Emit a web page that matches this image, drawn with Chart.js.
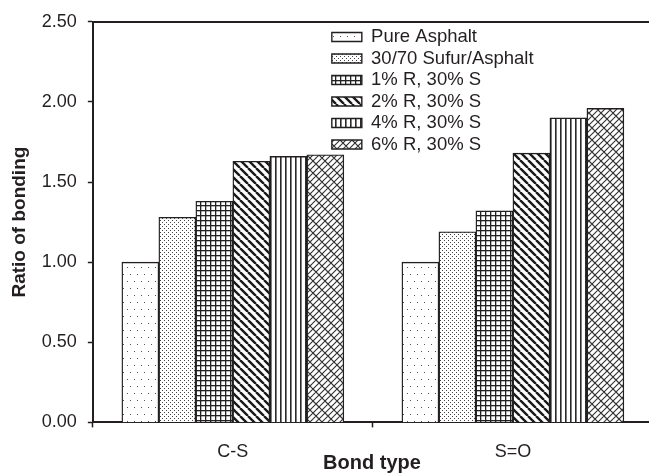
<!DOCTYPE html>
<html>
<head>
<meta charset="utf-8">
<script src="https://cdn.jsdelivr.net/npm/chart.js@4"></script>
<style>
    html, body { margin: 0; padding: 0; background: #fff; overflow: hidden; }
    canvas { display: block; }
</style>
</head>
<body>
<canvas id="bond_chart" width="649" height="474"></canvas>
<script>
// bond ratios per bond type
const bondTypes = ['C-S', 'S=O'];
const seriesNames = ['Pure Asphalt', '30/70 Sufur/Asphalt', '1% R, 30% S', '2% R, 30% S', '4% R, 30% S', '6% R, 30% S'];
const pureAsphalt = [1.00, 1.00];
const sulfurAsphalt = [1.28, 1.19];
const r1s30 = [1.38, 1.32];
const r2s30 = [1.63, 1.68];
const r4s30 = [1.66, 1.90];
const r6s30 = [1.67, 1.96];
const yMax = 2.5;
const xMax = 1.986;

const ink = '#231f20';
const chart_1 = document.getElementById('bond_chart');
const ctx = chart_1.getContext('2d');

function makePattern(w, h, draw) {
    const c = document.createElement('canvas');
    c.width = w;
    c.height = h;
    const g = c.getContext('2d');
    g.fillStyle = '#fff';
    g.fillRect(0, 0, w, h);
    g.fillStyle = '#333';
    g.strokeStyle = '#333';
    draw(g, w, h);
    return ctx.createPattern(c, 'repeat');
}

// sparse dots
const dotsSparse = makePattern(7, 14, g => {
    g.fillStyle = '#555';
    g.fillRect(1, 1, 1, 1);
    g.fillRect(4, 8, 1, 1);
});
// dense dots
const dotsDense = makePattern(4, 4, g => {
    g.fillStyle = '#444';
    g.fillRect(0, 0, 1, 1);
    g.fillRect(2, 2, 1, 1);
});
// small squares
const gridFine = makePattern(5, 5, g => {
    g.fillStyle = '#222';
    g.fillRect(0, 0, 5, 1.3);
    g.fillRect(0, 0, 1.3, 5);
});
// thick back slashes
const backSlash = makePattern(8, 8, g => {
    g.strokeStyle = '#1a1a1a';
    g.lineWidth = 2.4;
    g.beginPath();
    for (let k = -1; k <= 1; k++) {
        g.moveTo(k * 8, 0);
        g.lineTo(k * 8 + 8, 8);
    }
    g.stroke();
});
// vertical lines
const vertLines = makePattern(5, 4, g => {
    g.fillStyle = '#2a2a2a';
    g.fillRect(0, 0, 1.6, 4);
});
// diagonal bricks
const bricks = makePattern(12, 12, (g, T) => {
    const s = T / 2;
    g.lineWidth = 1.1;
    g.beginPath();
    for (let c = 0; c <= 2 * T; c += s) {
        g.moveTo(c + 1, -1);
        g.lineTo(c - T - 1, T + 1);
    }
    const segs = [[1, s], [1 + s, s], [1 + s / 2, T], [1 + 3 * s / 2, T]];
    for (let ox = -T; ox <= T; ox += T) {
        for (let oy = -T; oy <= T; oy += T) {
            for (const [p, c] of segs) {
                g.moveTo(ox + p, oy + c - p);
                g.lineTo(ox + p + s / 2, oy + c - p + s / 2);
            }
        }
    }
    g.stroke();
});

const fills = [dotsSparse, dotsDense, gridFine, backSlash, vertLines, bricks];
const series = [pureAsphalt, sulfurAsphalt, r1s30, r2s30, r4s30, r6s30];

const datasets = series.map((vals, i) => ({
    label: seriesNames[i],
    data: vals.map((v, j) => ({x: j + 0.5, y: v})),
    backgroundColor: fills[i],
    borderColor: ink,
    borderWidth: 1.4,
    barThickness: 37
}));

// legend sits inside the plot, upper middle
const legendSpot = {
    id: 'legendSpot',
    afterLayout(chart) {
        const lg = chart.legend;
        const area = chart.chartArea;
        lg.left = area.left + 236;
        lg.top = area.top + 3;
        lg.right = lg.left + 260;
        lg.bottom = lg.top + 150;
    }
};

Chart.defaults.font.family = "'Liberation Sans', Arial, sans-serif";
Chart.defaults.color = ink;

new Chart(chart_1, {
    type: 'bar',
    data: {datasets: datasets},
    plugins: [legendSpot],
    options: {
        responsive: false,
        animation: false,
        devicePixelRatio: 1,
        layout: {
            padding: {left: 0, right: -95, top: 21, bottom: -3}
        },
        scales: {
            x: {
                type: 'linear',
                offset: false,
                min: 0,
                max: xMax,
                afterBuildTicks: scale => {
                    scale.ticks = [0, 0.5, 1, 1.5].map(v => ({value: v}));
                },
                ticks: {
                    autoSkip: false,
                    maxRotation: 0,
                    padding: 14,
                    font: {size: 18},
                    callback: v => (v % 1 === 0.5 ? bondTypes[Math.floor(v)] : '')
                },
                grid: {
                    offset: false,
                    drawOnChartArea: false,
                    tickLength: 5,
                    tickWidth: 1.5,
                    tickColor: c => (c.tick && c.tick.value % 1 === 0 ? ink : 'rgba(0,0,0,0)')
                },
                border: {color: ink, width: 2}
            },
            xTop: {
                type: 'linear',
                position: 'top',
                offset: false,
                min: 0,
                max: xMax,
                ticks: {display: false},
                grid: {drawOnChartArea: false, drawTicks: false},
                border: {color: ink, width: 2}
            },
            y: {
                min: 0,
                max: yMax,
                ticks: {
                    stepSize: 0.5,
                    padding: 11,
                    font: {size: 18},
                    callback: v => v.toFixed(2)
                },
                grid: {
                    drawOnChartArea: false,
                    tickLength: 5,
                    tickWidth: 1.5,
                    tickColor: ink
                },
                border: {color: ink, width: 2},
                title: {
                    display: true,
                    text: 'Ratio of bonding',
                    font: {size: 19, weight: 'bold'},
                    padding: {top: 8, bottom: 0}
                }
            }
        },
        plugins: {
            legend: {
                position: 'chartArea',
                align: 'start',
                labels: {
                    boxWidth: 30,
                    boxHeight: 9,
                    padding: 3,
                    font: {size: 18.5},
                    color: ink
                }
            },
            title: {
                display: true,
                text: 'Bond type',
                position: 'bottom',
                font: {size: 20, weight: 'bold'},
                color: ink,
                padding: {top: -26, bottom: 0}
            },
            tooltip: {enabled: false}
        }
    }
});
</script>
</body>
</html>
